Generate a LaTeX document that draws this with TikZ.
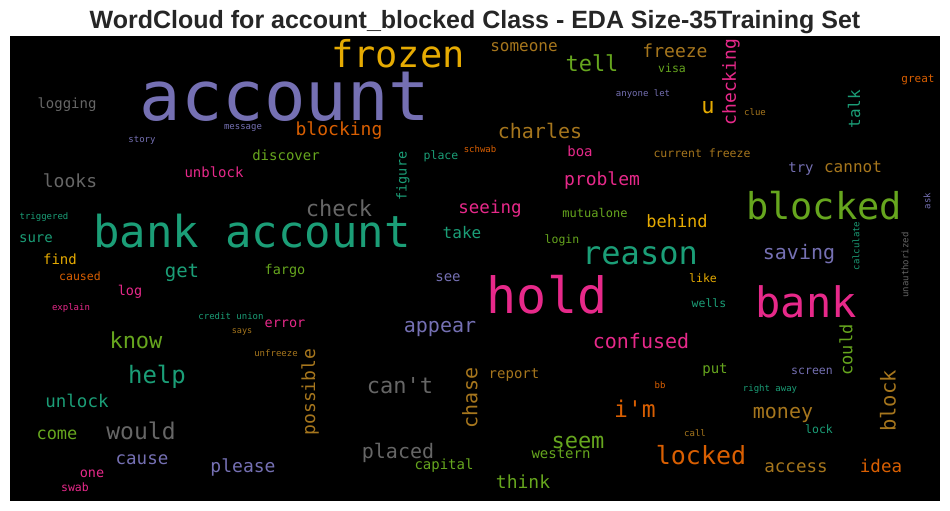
\documentclass[tikz,border=0pt]{standalone}
\usepackage{fontspec}
\setmainfont{Liberation Sans}
\newfontfamily\wcfont{DejaVu Sans Mono}
\definecolor{dteal}{HTML}{1B9E77}
\definecolor{dorange}{HTML}{D95F02}
\definecolor{dpurple}{HTML}{7570B3}
\definecolor{dpink}{HTML}{E7298A}
\definecolor{dgreen}{HTML}{66A61E}
\definecolor{dyellow}{HTML}{E6AB02}
\definecolor{dbrown}{HTML}{A6761D}
\definecolor{dgray}{HTML}{666666}
\definecolor{titlegray}{HTML}{262626}
\tikzset{
  word/.style={anchor=base, inner sep=0pt},
  up/.style={rotate=90, anchor=center, inner sep=0pt},
  sz/.style={font=\wcfont\fontsize{#1}{#1}\selectfont},
}
\begin{document}
\begin{tikzpicture}[x=1pt, y=-1pt]
  \useasboundingbox (0,0) rectangle (950,511);
  \fill[black] (10,36) rectangle (940,501);
  \node[word, font=\bfseries\fontsize{25}{25}\selectfont, text=titlegray] (title) at (475,28.5) {WordCloud for account\_blocked Class - EDA Size-35Training Set};

  \node[word, sz=69, dpurple] (account) at (285,120) {account};
  \node[word, sz=44, dteal] (bankaccount) at (252,247) {bank account};
  \node[word, sz=50, dpink] (hold) at (547,313) {hold};
  \node[word, sz=42, dpink] (bank) at (806,317) {bank};
  \node[word, sz=37, dgreen] (blocked) at (824,219) {blocked};
  \node[word, sz=37, dyellow] (frozen) at (398,67) {frozen};
  \node[word, sz=32, dteal] (reason) at (640,264) {reason};
  \node[word, sz=25, dorange] (locked) at (701,464) {locked};

  \node[word, sz=16, dbrown] (someone) at (524,52) {someone};
  \node[word, sz=22, dgreen] (tell) at (592,71) {tell};
  \node[word, sz=18, dbrown] (freeze) at (675,58) {freeze};
  \node[word, sz=11.5, dgreen] (visa) at (672,73) {visa};
  \node[word, sz=9, dpurple] (anyonelet) at (643,96) {anyone let};
  \node[word, sz=22, dyellow] (u) at (708,113) {u};
  \node[up, sz=18, dpink] (checking) at (731,82) {checking};
  \node[word, sz=9, dbrown] (clue) at (755,115) {clue};
  \node[up, sz=16, dteal] (talk) at (854,109) {talk};
  \node[word, sz=11, dorange] (great) at (918,82) {great};
  \node[word, sz=11.5, dbrown] (currentfreeze) at (702,157) {current freeze};
  \node[word, sz=14, dpurple] (try) at (801,172) {try};
  \node[word, sz=16, dbrown] (cannot) at (853,172) {cannot};

  \node[word, sz=14, dgray] (logging) at (67,108) {logging};
  \node[word, sz=9, dpurple] (message) at (243,129) {message};
  \node[word, sz=9, dpurple] (story) at (142,142) {story};
  \node[word, sz=18, dorange] (blocking) at (339,135) {blocking};
  \node[word, sz=14, dgreen] (discover) at (286,160) {discover};
  \node[word, sz=20, dbrown] (charles) at (540,138) {charles};
  \node[word, sz=11.5, dteal] (place) at (441,159) {place};
  \node[word, sz=9, dorange] (schwab) at (480,152) {schwab};
  \node[word, sz=14, dpink] (boa) at (580,156) {boa};
  \node[up, sz=13.5, dteal] (figure) at (403,176) {figure};
  \node[word, sz=18, dpink] (problem) at (602,185) {problem};
  \node[word, sz=14, dpink] (unblock) at (214,177) {unblock};
  \node[word, sz=18, dgray] (looks) at (70,187) {looks};
  \node[word, sz=22, dgray] (check) at (339,216) {check};

  \node[word, sz=17.5, dpink] (seeing) at (490,213) {seeing};
  \node[word, sz=12, dgreen] (mutualone) at (595,217) {mutualone};
  \node[word, sz=16, dteal] (take) at (462,238) {take};
  \node[word, sz=11.5, dgreen] (login) at (562,243) {login};
  \node[word, sz=17, dyellow] (behind) at (677,227) {behind};
  \node[up, sz=9, dpurple] (ask) at (927,201) {ask};
  \node[word, sz=20, dpurple] (saving) at (799,259) {saving};
  \node[up, sz=9, dteal] (calculate) at (856,246) {calculate};
  \node[up, sz=9, dgray] (unauthorized) at (905,265) {unauthorized};
  \node[word, sz=11.5, dyellow] (like) at (703,282) {like};
  \node[word, sz=11.5, dteal] (wells) at (709,307) {wells};
  \node[word, sz=14, dpurple] (see) at (448,281) {see};

  \node[word, sz=9, dteal] (triggered) at (44,219) {triggered};
  \node[word, sz=14, dteal] (sure) at (36,242) {sure};
  \node[word, sz=14, dyellow] (find) at (60,264) {find};
  \node[word, sz=11.5, dorange] (caused) at (80,280) {caused};
  \node[word, sz=19, dteal] (get) at (182,277) {get};
  \node[word, sz=13.5, dgreen] (fargo) at (285,274) {fargo};
  \node[word, sz=13.5, dpink] (log) at (130,295) {log};
  \node[word, sz=9, dpink] (explain) at (71,310) {explain};
  \node[word, sz=9, dteal] (creditunion) at (231,319) {credit union};
  \node[word, sz=13.5, dpink] (error) at (285,327) {error};
  \node[word, sz=8.5, dbrown] (says) at (242,333) {says};
  \node[word, sz=9, dbrown] (unfreeze) at (276,356) {unfreeze};

  \node[word, sz=22, dgreen] (know) at (136,348) {know};
  \node[word, sz=24, dteal] (help) at (157,383) {help};
  \node[up, sz=18, dbrown] (possible) at (310,392) {possible};
  \node[word, sz=17.5, dteal] (unlock) at (77,407) {unlock};
  \node[word, sz=17, dgreen] (come) at (57,439) {come};
  \node[word, sz=23, dgray] (would) at (141,439) {would};
  \node[word, sz=17.5, dpurple] (cause) at (142,464) {cause};
  \node[word, sz=18, dpurple] (please) at (243,472) {please};
  \node[word, sz=13.5, dpink] (one) at (92,477) {one};
  \node[word, sz=11.5, dpink] (swab) at (75,491) {swab};

  \node[word, sz=20, dpurple] (appear) at (440,332) {appear};
  \node[word, sz=22, dgray] (cant) at (400,393) {can\textquotesingle t};
  \node[up, sz=20, dbrown] (chase) at (470,398) {chase};
  \node[word, sz=14, dbrown] (report) at (514,378) {report};
  \node[word, sz=20, dgray] (placed) at (398,458) {placed};
  \node[word, sz=14, dgreen] (capital) at (444,469) {capital};
  \node[word, sz=22, dgreen] (seem) at (578,448) {seem};
  \node[word, sz=14, dgreen] (western) at (561,458) {western};
  \node[word, sz=18, dgreen] (think) at (523,488) {think};

  \node[word, sz=20, dpink] (confused) at (641,348) {confused};
  \node[word, sz=23, dorange] (im) at (635,417) {i\textquotesingle m};
  \node[word, sz=14, dgreen] (put) at (715,373) {put};
  \node[word, sz=9, dorange] (bb) at (660,388) {bb};
  \node[word, sz=11.5, dpurple] (screen) at (812,374) {screen};
  \node[word, sz=9, dteal] (rightaway) at (770,391) {right away};
  \node[up, sz=17, dgreen] (could) at (846,350) {could};
  \node[up, sz=20.5, dbrown] (block) at (888,401) {block};
  \node[word, sz=20, dbrown] (money) at (783,418) {money};
  \node[word, sz=11.5, dteal] (lock) at (819,433) {lock};
  \node[word, sz=9, dbrown] (call) at (695,436) {call};
  \node[word, sz=17.5, dbrown] (access) at (796,472) {access};
  \node[word, sz=17.5, dorange] (idea) at (881,472) {idea};
\end{tikzpicture}
\end{document}
